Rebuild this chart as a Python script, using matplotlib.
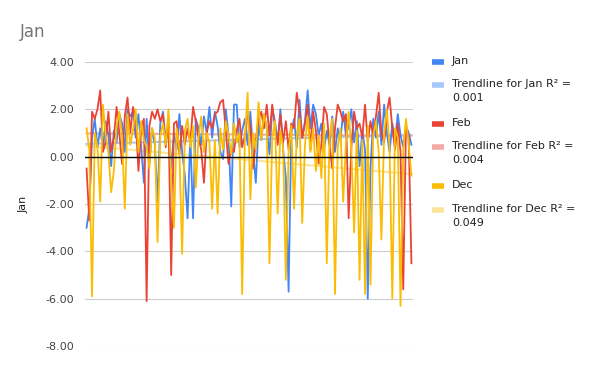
import matplotlib.pyplot as plt
import numpy as np
from matplotlib.lines import Line2D

# values (about 120 points per series)
jan = [-3.0, -2.2, 0.8, 1.6, 0.4, 1.2, 0.3, 1.5, 0.9, -0.4,
       1.1, 0.6, 1.8, 1.4, 0.2, 2.0, 1.7, 1.9, 0.8, 1.8,
       0.4, -1.1, 1.6, -0.3, 1.2, 0.5, -1.9, 1.4, 1.9, 0.6,
       1.3, -0.5, 1.0, 0.3, 1.8, 0.2, -0.8, -2.6, 0.9, -2.6,
       1.6, 1.2, 0.5, 1.7, 1.0, 2.1, 0.8, 1.9, 1.3, 0.2,
       -0.1, 2.0, 0.9, -2.1, 2.2, 2.2, 0.4, 1.1, 1.6, 0.5,
       1.9, 0.2, -1.1, 1.4, 0.7, 1.8, 1.2, 0.1, 2.0, 1.5,
       0.6, 2.0, 0.3, -0.9, -5.7, 1.0, 1.6, 0.4, 2.4, 0.8,
       1.5, 2.8, 1.2, 2.2, 1.8, 0.9, 1.4, 0.3, 1.1, 0.5,
       1.7, 0.2, 1.2, 0.7, 1.9, 0.9, 1.3, 2.0, 0.6, 1.5,
       -0.4, 1.1, 0.3, -6.0, -0.5, 1.6, 0.8, 1.9, 0.5, 2.2,
       1.0, 0.2, 1.4, 0.7, 1.8, 0.9, 0.4, 1.3, 1.0, 0.5]
feb = [-0.5, -2.7, 1.9, 1.6, 2.0, 2.8, 0.2, 0.6, 1.9, 0.2,
       0.8, 2.1, 1.0, -0.3, 1.7, 2.5, 1.0, 2.1, 1.6, -0.6,
       1.2, 1.6, -6.1, 1.3, 1.9, 1.6, 2.0, 1.5, 1.8, 0.4,
       1.7, -5.0, 1.4, 1.5, 0.1, 1.3, 0.5, 1.2, 0.6, 2.1,
       1.5, 0.8, 0.3, -1.1, 1.0, 1.5, 1.2, 1.8, 1.9, 2.3,
       2.4, 1.1, -0.3, 0.4, 0.2, 1.1, 1.6, 0.4, 0.9, 1.8,
       1.3, -0.5, 0.7, 1.6, 1.9, 1.2, 2.2, 0.9, 2.2, 1.3,
       0.5, 1.8, 0.6, 1.5, 0.3, 1.4, 1.2, 2.7, 1.9, 0.8,
       1.4, 2.2, 0.3, 1.9, 1.1, -0.3, 0.5, 2.1, 1.8, 0.5,
       -0.5, 1.2, 2.2, 1.9, 1.5, 1.8, -2.6, 0.4, 1.9, 1.2,
       1.4, 0.8, 2.2, 0.6, 1.5, 0.9, 1.7, 2.7, 1.0, 0.6,
       1.9, 2.5, 1.2, 0.3, 1.4, 0.2, -5.6, 1.3, 0.8, -4.5]
dec = [1.2, 0.3, -5.9, 1.0, 0.4, -1.9, 2.2, 0.9, 0.2, -1.5,
       -0.6, 1.3, 1.9, 0.8, -2.2, 1.8, 0.5, 1.1, 2.0, 0.2,
       1.5, 0.7, 0.4, -0.5, 1.2, 0.8, -3.6, 0.9, 1.4, 0.5,
       2.0, -0.9, -3.0, 1.2, 0.3, -4.1, 1.1, 1.6, 0.4, 1.3,
       -1.3, 0.8, 1.7, 0.2, 1.0, 0.6, -2.2, 0.7, -2.4, 1.2,
       0.3, 1.5, 0.9, 0.1, 1.4, 0.6, 1.0, -5.8, 0.8, 2.7,
       -1.8, 1.0, 0.3, 2.3, 0.7, 1.8, 1.2, -4.5, 0.8, 1.5,
       -2.4, 1.1, 0.4, -5.2, 0.2, 1.3, -2.2, 0.9, 1.6, -2.8,
       0.5, 1.7, 0.2, 1.2, -0.6, 0.9, -0.9, 1.4, -4.5, 0.8,
       1.6, -5.8, 0.4, 1.2, -1.9, 0.6, 1.9, 0.3, -3.2, 1.1,
       -5.2, 0.7, -5.8, 1.3, -5.4, 0.9, 1.5, 0.2, -3.5, 1.0,
       2.0, 0.4, -6.0, 1.2, 0.8, -6.3, 0.3, 1.6, 0.5, -0.8]

names = ['Jan', 'Feb', 'Dec']
colors = ['#4285f4', '#ea4335', '#fbbc04']
trend_colors = ['#a8c7fa', '#f4aaa4', '#fde49b']
r2_labels = ['0.001', '0.004', '0.049']

W, H = 600, 371
fig = plt.figure(figsize=(6, 3.71), dpi=100)
ax = fig.add_axes([0.142, 0.067, 0.546, 0.766])

x = np.arange(len(jan))
legend_items = []
for name, ys, c, tc, r2 in zip(names, [jan, feb, dec], colors, trend_colors, r2_labels):
    ys = np.array(ys)
    ax.plot(x, ys, color=c, lw=1.3, zorder=3)
    # linear trendline
    k, b = np.polyfit(x, ys, 1)
    ax.plot(x, k * x + b, color=tc, lw=1.5, zorder=2)
    legend_items.append((c, name))
    legend_items.append((tc, 'Trendline for %s R² =\n%s' % (name, r2)))

ax.axhline(0, color='black', lw=1, zorder=4)
ax.set_ylim(-8, 4)
ax.set_xlim(-0.5, len(jan) - 0.5)
ax.set_yticks(np.arange(-8, 5, 2))
ax.set_yticklabels(['%.2f' % v for v in np.arange(-8, 5, 2)])
ax.yaxis.grid(True, color='#cccccc', lw=0.8)
ax.set_axisbelow(True)
ax.set_xticks([])
ax.tick_params(axis='y', length=0, labelsize=8, labelcolor='#444444', pad=8)
for s in ax.spines.values():
    s.set_visible(False)
ax.set_ylabel('Jan', fontsize=8, color='#222222', labelpad=12)

fig.text(0.033, 0.9, 'Jan', fontsize=12, color='#757575')

# legend drawn by hand, Google Sheets style
ypix = [62, 85, 124, 147, 186, 210]
for (c, lab), yp in zip(legend_items, ypix):
    yf = 1 - yp / H
    fig.add_artist(Line2D([432 / W, 444 / W], [yf, yf], color=c, lw=4,
                          solid_capstyle='butt'))
    fig.text(452 / W, yf + 6 / H, lab, fontsize=8, color='#222222',
             va='top', linespacing=1.45)

fig.savefig('out.png', dpi=100)
